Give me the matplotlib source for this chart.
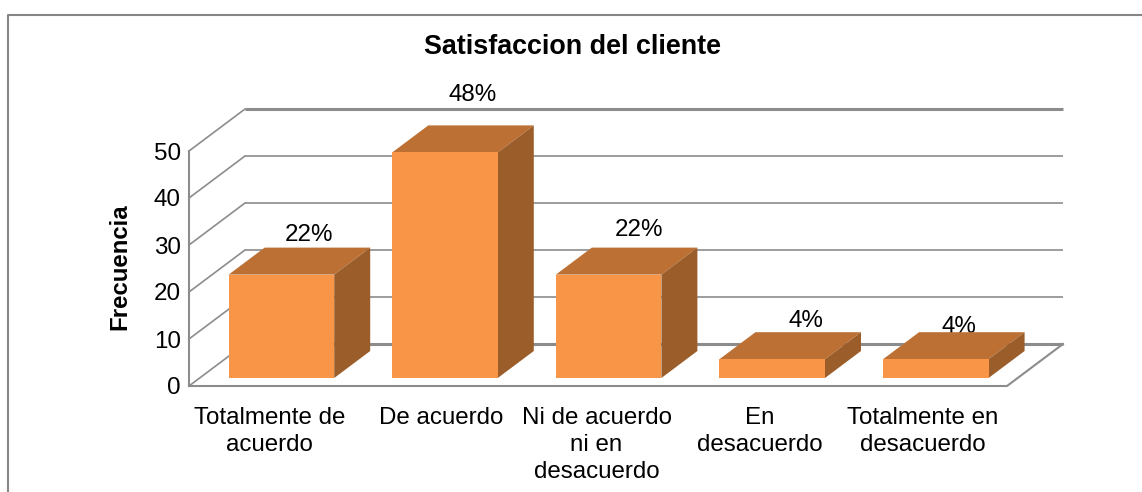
import matplotlib
matplotlib.use("Agg")
import matplotlib.pyplot as plt
from matplotlib.lines import Line2D
from matplotlib.patches import Polygon
from matplotlib.transforms import ScaledTranslation

categorias = ["Totalmente de\nacuerdo", "De acuerdo", "Ni de acuerdo\nni en\ndesacuerdo",
              "En\ndesacuerdo", "Totalmente en\ndesacuerdo"]
valores = [22, 48, 22, 4, 4]
etiquetas = ["22%", "48%", "22%", "4%", "4%"]
ticks_y = [0, 10, 20, 30, 40, 50]

# small manual nudges for the data labels and category labels, in points
label_dx = [7, 7, 9, 11, 4]
label_dy = [9, 22, 13, 8, 4]
cat_dx = [-1, 5, -1, -1, -2]

gris = "#8c8c8c"
frente = "#f99547"
arriba = "#bc7034"
lado = "#9b5e2b"

W, H = 1142, 492
plt.rcParams["font.family"] = ["Liberation Sans", "DejaVu Sans"]

fig = plt.figure(figsize=(W / 100, H / 100), dpi=100)
# outer frame only shows on the top and left
fig.add_artist(Line2D([8 / W, 8 / W, 1], [0, 1 - 15 / H, 1 - 15 / H], transform=fig.transFigure,
                      color="#868686", lw=1.5))

ax = fig.add_axes([189 / W, 1 - 386 / H, 818 / W, 235 / H])
ax.set_xlim(0, 5)
ax.set_ylim(0, 50)
for s in ax.spines.values():
    s.set_visible(False)
ax.patch.set_alpha(0)

# depth of the fake 3d box, in data units
prof_x = 56 / 163.6
prof_y = 42 / 4.7

# walls
for t in ticks_y:
    lw = 2.2 if t in (0, 50) else 1.2
    ax.plot([0, prof_x], [t, t + prof_y], color=gris, lw=1.2, clip_on=False, zorder=1)
    ax.plot([prof_x, 5 + prof_x], [t + prof_y, t + prof_y], color=gris, lw=lw, clip_on=False, zorder=1,
            solid_capstyle="butt")
ax.plot([0, 0], [0, 50], color=gris, lw=1.5, clip_on=False, zorder=1)
ax.plot([0, 5, 5 + prof_x], [0, 0, prof_y], color=gris, lw=1.5, clip_on=False, zorder=1)

# bars
ancho = 0.645
bar_dx = 0.065
bar_base = 8 / 4.7
caja_x = 36 / 163.6
caja_y = 27 / 4.7
xs = [i + 0.5 + bar_dx for i in range(len(valores))]
ax.bar(xs, valores, width=ancho, bottom=bar_base, color=frente, zorder=4, clip_on=False)
for x, v in zip(xs, valores):
    x0 = x - ancho / 2
    x1 = x + ancho / 2
    top = v + bar_base
    ax.add_patch(Polygon([(x0, top), (x1, top), (x1 + caja_x, top + caja_y), (x0 + caja_x, top + caja_y)],
                         fc=arriba, ec="none", zorder=3, clip_on=False))
    ax.add_patch(Polygon([(x1, bar_base), (x1 + caja_x, bar_base + caja_y), (x1 + caja_x, top + caja_y), (x1, top)],
                         fc=lado, ec="none", zorder=3, clip_on=False))

for x, v, e, dx, dy in zip(xs, valores, etiquetas, label_dx, label_dy):
    ax.annotate(e, (x + caja_x / 2, v + bar_base + caja_y), xytext=(dx, dy), textcoords="offset points",
                ha="center", va="center", fontsize=17.4, color="black", zorder=2, annotation_clip=False)

ax.set_yticks(ticks_y)
ax.set_xticks([i + 0.5 for i in range(len(categorias))])
ax.set_xticklabels(categorias, linespacing=1.3)
ax.tick_params(axis="both", length=0, labelsize=17.4)
ax.tick_params(axis="x", pad=15)
ax.tick_params(axis="y", pad=6)
for lab, dx in zip(ax.get_xticklabels(), cat_dx):
    lab.set_transform(lab.get_transform() + ScaledTranslation(dx / 72, 0, fig.dpi_scale_trans))

fig.text(573 / W, 1 - 47 / H, "Satisfaccion del cliente", ha="center", va="center",
         fontsize=19.4, fontweight="bold")
fig.text(120 / W, 1 - 267 / H, "Frecuencia", rotation=90, ha="center", va="center",
         fontsize=17.3, fontweight="bold")

fig.savefig("out.png", dpi=100)
